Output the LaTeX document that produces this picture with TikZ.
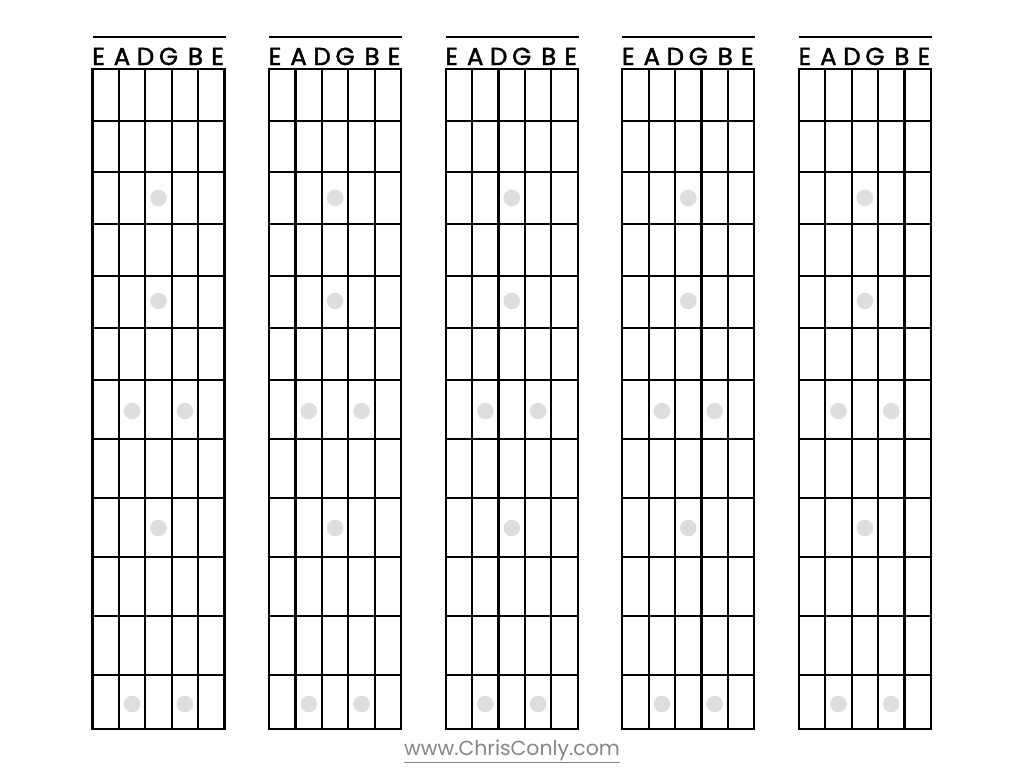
\documentclass[tikz,border=0pt]{standalone}
\usepackage{fontspec}
\setmainfont{Poppins}
\newfontfamily\labelfont{Poppins}[FakeBold=1.8]
\usetikzlibrary{positioning}

\begin{document}
\begin{tikzpicture}[
          x=1pt, y=-1pt,
          wire/.style={line width=2.2pt, line cap=rect},
          nut/.style={line width=2pt},
          inlay/.style={fill=black!13, draw=none},
          strname/.style={font=\labelfont\fontsize{24.5}{24.5}\selectfont, anchor=base, inner sep=0pt},
          site/.style={font=\fontsize{20.4}{20.4}\selectfont, text=black!48, inner sep=0pt}
      ]
        \useasboundingbox (0,0) rectangle (1024,768);
        % five blank fretboards
        \foreach \b in {0,...,4} {
          \pgfmathsetmacro{\L}{92.5+176.6*\b}
          \draw[nut] (\L,37.5) -- (\L+133,37.5);
          \foreach \n/\dx [count=\i] in {E/6,A/29.5,D/53,G/76,B/103,E/125}
            \node[strname] (name-\b-\i) at (\L+\dx,65) {\n};
          \foreach \y in {198,301,528}
            \fill[inlay] (\L+66,\y) circle (8.3);
          \foreach \y in {411,704} {
            \fill[inlay] (\L+39.6,\y) circle (8.3);
            \fill[inlay] (\L+92.4,\y) circle (8.3);
          }
          \foreach \y in {69,121,172,224,276,328,380,439,498,557,616,675,729}
            \draw[wire] (\L,\y) -- (\L+132,\y);
          \foreach \s in {0,...,5}
            \draw[wire] (\L+26.4*\s,69) -- (\L+26.4*\s,729);
        }
        \node[site] (site) at (512,751) {\underline{www.ChrisConly.com}};
      \end{tikzpicture}
\end{document}
